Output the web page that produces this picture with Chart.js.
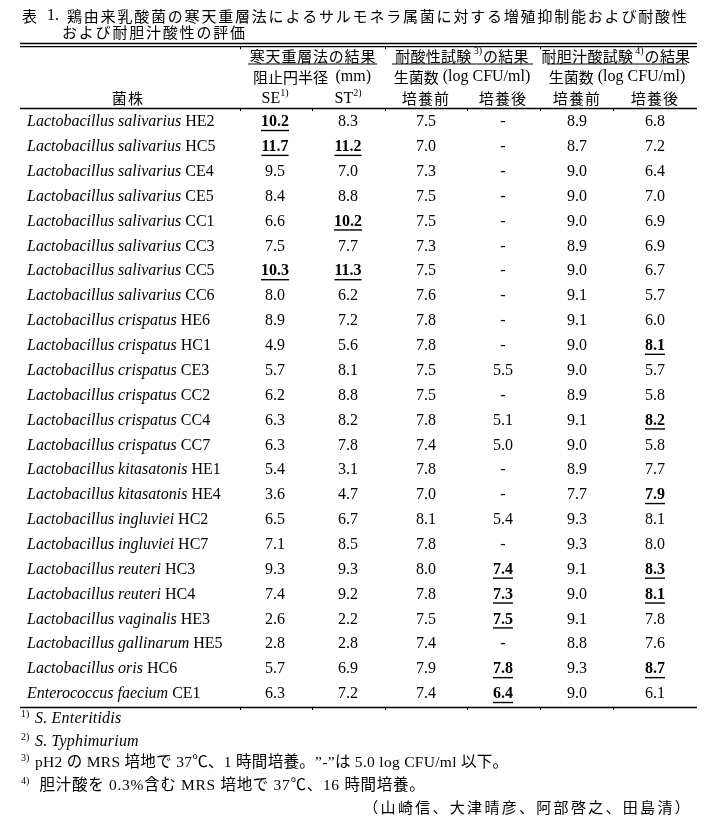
<!DOCTYPE html>
<html>
<head>
<meta charset="utf-8">
<script src="https://cdn.jsdelivr.net/npm/chart.js@4.4.0/dist/chart.umd.min.js"></script>
<style>
body{margin:0;background:#fff}
#wrap{width:705px;height:822px;position:relative}
</style>
</head>
<body>
<div id="wrap"><canvas id="tbl"></canvas></div>
<script>
// table data
const species=['Lactobacillus salivarius','Lactobacillus salivarius','Lactobacillus salivarius','Lactobacillus salivarius',
'Lactobacillus salivarius','Lactobacillus salivarius','Lactobacillus salivarius','Lactobacillus salivarius',
'Lactobacillus crispatus','Lactobacillus crispatus','Lactobacillus crispatus','Lactobacillus crispatus',
'Lactobacillus crispatus','Lactobacillus crispatus','Lactobacillus kitasatonis','Lactobacillus kitasatonis',
'Lactobacillus ingluviei','Lactobacillus ingluviei','Lactobacillus reuteri','Lactobacillus reuteri',
'Lactobacillus vaginalis','Lactobacillus gallinarum','Lactobacillus oris','Enterococcus faecium']
const strainIds=['HE2','HC5','CE4','CE5','CC1','CC3','CC5','CC6','HE6','HC1','CE3','CC2','CC4','CC7','HE1','HE4','HC2','HC7','HC3','HC4','HE3','HE5','HC6','CE1']
const se=[10.2,11.7,9.5,8.4,6.6,7.5,10.3,8.0,8.9,4.9,5.7,6.2,6.3,6.3,5.4,3.6,6.5,7.1,9.3,7.4,2.6,2.8,5.7,6.3]
const st=[8.3,11.2,7.0,8.8,10.2,7.7,11.3,6.2,7.2,5.6,8.1,8.8,8.2,7.8,3.1,4.7,6.7,8.5,9.3,9.2,2.2,2.8,6.9,7.2]
const acidBefore=[7.5,7.0,7.3,7.5,7.5,7.3,7.5,7.6,7.8,7.8,7.5,7.5,7.8,7.4,7.8,7.0,8.1,7.8,8.0,7.8,7.5,7.4,7.9,7.4]
// null = "-" (5.0 log CFU/ml 以下)
const acidAfter=[null,null,null,null,null,null,null,null,null,null,5.5,null,5.1,5.0,null,null,5.4,null,7.4,7.3,7.5,null,7.8,6.4]
const bileBefore=[8.9,8.7,9.0,9.0,9.0,8.9,9.0,9.1,9.1,9.0,9.0,8.9,9.1,9.0,8.9,7.7,9.3,9.3,9.1,9.0,9.1,8.8,9.3,9.0]
const bileAfter=[6.8,7.2,6.4,7.0,6.9,6.9,6.7,5.7,6.0,8.1,5.7,5.8,8.2,5.8,7.7,7.9,8.1,8.0,8.3,8.1,7.8,7.6,8.7,6.1]
// rows printed bold + underlined
const seBold=[0,1,6]
const stBold=[1,4,6]
const acidAfterBold=[18,19,20,22,23]
const bileAfterBold=[9,12,15,18,19,22]

const footnotes=[
  ['1)','S. Enteritidis',true],
  ['2)','S. Typhimurium',true],
  ['3)','pH2 の MRS 培地で 37℃、1 時間培養。”-”は 5.0 log CFU/ml 以下。',false],
  ['4)',' 胆汁酸を 0.3%含む MRS 培地で 37℃、16 時間培養。',false]
]
const authors='（山崎信、大津晴彦、阿部啓之、田島清）'

// layout
const W=705,H=822
const rowTop=122,pitch=24.87
const colX=[275,348,426,503,577,655]
const nameX=27
const serif='"Liberation Serif", "Noto Sans CJK JP"'
const jp='"Noto Sans CJK JP", "Liberation Serif"'

const columns=[
  {vals:se,bold:seBold},
  {vals:st,bold:stBold},
  {vals:acidBefore,bold:[]},
  {vals:acidAfter,bold:acidAfterBold},
  {vals:bileBefore,bold:[]},
  {vals:bileAfter,bold:bileAfterBold}
]

const datasets=[{label:'name',data:species.map((s,i)=>({x:nameX,y:i})),pointRadius:0}]
columns.forEach((c,k)=>{
  datasets.push({label:'c'+k,data:c.vals.map((v,i)=>({x:colX[k],y:i})),pointRadius:0})
})

const tablePlugin={
  id:'tablePlugin',
  afterDatasetsDraw(chart){
    const ctx=chart.ctx
    const X=v=>chart.scales.x.getPixelForValue(v)
    const Y=r=>chart.scales.y.getPixelForValue(r)
    const py=p=>(p-rowTop)/pitch  // pixel row -> row units
    ctx.save()
    ctx.fillStyle='#000'
    ctx.strokeStyle='#000'
    ctx.textBaseline='middle'

    function line(x1,x2,yy,w){
      ctx.lineWidth=w||1
      ctx.beginPath();ctx.moveTo(X(x1),yy);ctx.lineTo(X(x2),yy);ctx.stroke()
    }
    function ticks(yy,xs){
      ctx.lineWidth=1
      xs.forEach(x=>{ctx.beginPath();ctx.moveTo(X(x)+0.5,yy);ctx.lineTo(X(x)+0.5,yy+2.5);ctx.stroke()})
    }

    // title
    ctx.textAlign='left'
    ctx.font='15px '+jp
    ctx.fillText('表',X(22),Y(py(16)))
    ctx.font='16px '+serif
    ctx.fillText('1.',X(47),Y(py(16)))
    ctx.font='15px '+jp
    ctx.letterSpacing='1.8px'
    ctx.fillText('鶏由来乳酸菌の寒天重層法によるサルモネラ属菌に対する増殖抑制能および耐酸性',X(67),Y(py(16)))
    ctx.fillText('および耐胆汁酸性の評価',X(62),Y(py(32)))
    ctx.letterSpacing='0px'

    // rules
    line(20,697,Y(py(43.5)),1.3)
    line(20,697,Y(py(46.7)),1.3)
    ticks(Y(py(46.7)),[240,385,540])
    line(20,697,Y(py(108.5)),1.3)
    ticks(Y(py(108.5)),[240,312,385,467,540,613])
    line(20,697,Y(py(707.5)),1.3)
    ticks(Y(py(707.5)),[240,312,385,467,540,613])

    // group headers
    const h1=Y(py(56)),h2=Y(py(77)),h3=Y(py(98))
    ctx.textAlign='center'
    ctx.font='15px '+jp
    ctx.letterSpacing='0.8px'
    ctx.fillText('寒天重層法の結果',X(313),h1)
    ctx.letterSpacing='0px'
    function supHead(pre,sup,post,cx,yy){
      ctx.font='15px '+jp
      ctx.letterSpacing='0.3px'
      const w1=ctx.measureText(pre).width,w3=ctx.measureText(post).width
      ctx.font='10px '+serif
      ctx.letterSpacing='0px'
      const w2=ctx.measureText(sup).width+3
      let x=X(cx)-(w1+w2+w3)/2
      ctx.textAlign='left'
      ctx.font='15px '+jp
      ctx.letterSpacing='0.3px'
      ctx.fillText(pre,x,yy);x+=w1+2
      ctx.font='10px '+serif
      ctx.letterSpacing='0px'
      ctx.fillText(sup,x,yy-5);x+=w2-2
      ctx.font='15px '+jp
      ctx.letterSpacing='0.3px'
      ctx.fillText(post,x,yy)
      ctx.letterSpacing='0px'
      ctx.textAlign='center'
    }
    supHead('耐酸性試験','3)','の結果',462,h1)
    supHead('耐胆汁酸試験','4)','の結果',616,h1)
    line(248,377,Y(py(64)),1)
    line(392,533,Y(py(64)),1)
    line(547,687,Y(py(64)),1)

    // second header line
    function mixed(parts,cx,yy){
      let total=0
      parts.forEach(p=>{ctx.font=p[1];total+=ctx.measureText(p[0]).width})
      let x=X(cx)-total/2
      ctx.textAlign='left'
      parts.forEach(p=>{ctx.font=p[1];ctx.fillText(p[0],x,yy);x+=ctx.measureText(p[0]).width})
      ctx.textAlign='center'
    }
    mixed([['阻止円半径 ','15px '+jp],[' (mm)','16px '+serif]],312,h2)
    mixed([['生菌数','15px '+jp],[' (log CFU/ml)','16px '+serif]],462,h2)
    mixed([['生菌数','15px '+jp],[' (log CFU/ml)','16px '+serif]],617,h2)

    // third header line
    ctx.font='15px '+jp
    ctx.letterSpacing='1.2px'
    ctx.fillText('菌株',X(128),h3)
    ;['培養前','培養後','培養前','培養後'].forEach((t,k)=>ctx.fillText(t,X(colX[k+2]),h3))
    ctx.letterSpacing='0px'
    function supLatin(t,s,cx,yy){
      ctx.font='16px '+serif
      const w1=ctx.measureText(t).width
      ctx.font='10px '+serif
      const w2=ctx.measureText(s).width
      let x=X(cx)-(w1+w2)/2
      ctx.textAlign='left'
      ctx.font='16px '+serif
      ctx.fillText(t,x,yy+1)
      ctx.font='10px '+serif
      ctx.fillText(s,x+w1,yy-5)
      ctx.textAlign='center'
    }
    supLatin('SE','1)',colX[0],h3)
    supLatin('ST','2)',colX[1],h3)

    // strain names
    const nameMeta=chart.getDatasetMeta(0)
    ctx.textAlign='left'
    nameMeta.data.forEach((pt,i)=>{
      ctx.font='italic 16px '+serif
      ctx.fillText(species[i]+' ',pt.x,pt.y)
      const w=ctx.measureText(species[i]+' ').width
      ctx.font='16px '+serif
      ctx.fillText(strainIds[i],pt.x+w,pt.y)
    })

    // value cells
    ctx.textAlign='center'
    columns.forEach((c,k)=>{
      const meta=chart.getDatasetMeta(k+1)
      meta.data.forEach((pt,i)=>{
        const v=c.vals[i]
        const b=c.bold.includes(i)
        const t=v===null?'-':v.toFixed(1)
        ctx.font=(b?'bold ':'')+'16px '+serif
        ctx.fillText(t,pt.x,pt.y)
        if(b){
          const w=ctx.measureText(t).width
          ctx.lineWidth=1.4
          ctx.beginPath();ctx.moveTo(pt.x-w/2,pt.y+8.5);ctx.lineTo(pt.x+w/2,pt.y+8.5);ctx.stroke()
        }
      })
    })

    // footnotes
    const fy=[719,742,763,786]
    footnotes.forEach((f,i)=>{
      const yy=Y(py(fy[i]))
      ctx.textAlign='left'
      ctx.letterSpacing='0px'
      ctx.font='10px '+serif
      ctx.fillText(f[0],X(21),yy-5)
      if(f[2]){
        ctx.font='italic 16px '+serif
        ctx.letterSpacing='0.2px'
      }else{
        ctx.font='15.5px '+serif
        ctx.letterSpacing=(i===3?'0.7px':'0.3px')
      }
      ctx.fillText(f[1],X(35),yy)
    })
    ctx.textAlign='right'
    ctx.font='15px '+jp
    ctx.letterSpacing='2.3px'
    ctx.fillText(authors,X(692),Y(py(807)))
    ctx.restore()
  }
}

new Chart(document.getElementById('tbl'),{
  type:'scatter',
  data:{datasets:datasets},
  options:{
    responsive:true,
    maintainAspectRatio:false,
    animation:false,
    layout:{padding:0},
    plugins:{legend:{display:false},tooltip:{enabled:false}},
    scales:{
      x:{type:'linear',display:false,min:0,max:W},
      y:{type:'linear',display:false,reverse:true,min:-rowTop/pitch,max:(H-rowTop)/pitch}
    }
  },
  plugins:[tablePlugin]
})
</script>
</body>
</html>
